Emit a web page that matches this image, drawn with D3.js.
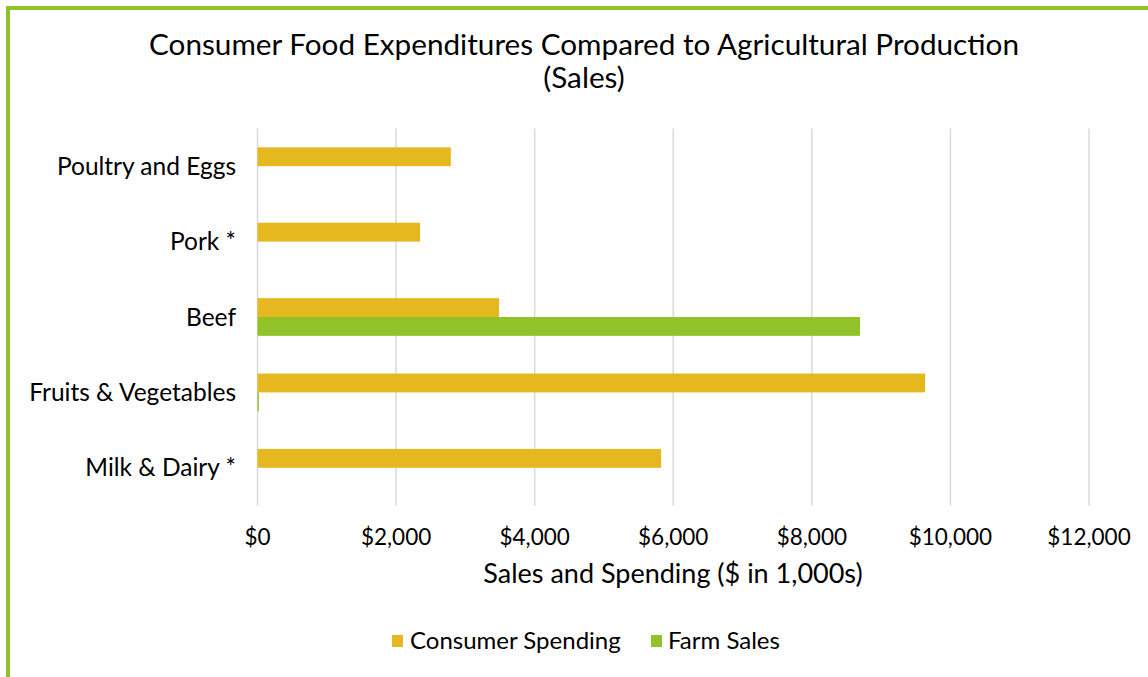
<!DOCTYPE html>
<html>
<head>
<meta charset="utf-8">
<script src="https://cdn.jsdelivr.net/npm/d3@7"></script>
<style>
  html, body { margin: 0; padding: 0; background: #fff; }
  svg { display: block; font-family: Lato, "Open Sans", sans-serif; }
</style>
</head>
<body>
<svg id="chart" width="1148" height="677"></svg>
<script>
// Food categories, top to bottom
const categories = ["Poultry and Eggs", "Pork *", "Beef", "Fruits & Vegetables", "Milk & Dairy *"];
// Values in $1,000s
const consumerSpending = [2790, 2345, 3485, 9635, 5825];
const farmSales = [0, 0, 8695, 20, 0];
const seriesNames = ["Consumer Spending", "Farm Sales"];
const seriesColors = ["#e5b81f", "#92c229"];
const xTicks = [0, 2000, 4000, 6000, 8000, 10000, 12000];

const svg = d3.select("#chart");
const W = 1148, H = 677;
const plot = { left: 257.5, right: 1089, top: 128.5, bottom: 505.5 };

// Outer frame: green rule along top and left
svg.append("line").attr("x1", 8).attr("x2", W).attr("y1", 8).attr("y2", 8)
  .attr("stroke", "#92c229").attr("stroke-width", 4);
svg.append("line").attr("x1", 8).attr("x2", 8).attr("y1", 6).attr("y2", H)
  .attr("stroke", "#92c229").attr("stroke-width", 4);

const x = d3.scaleLinear().domain([0, 12000]).range([plot.left, plot.right]);
const y = d3.scaleBand().domain(categories).range([plot.top, plot.bottom]).paddingInner(0.5).paddingOuter(0.25);
const sub = d3.scaleBand().domain(seriesNames).range([0, y.bandwidth()]);

// Title
svg.append("text").attr("x", 584).attr("y", 55).attr("text-anchor", "middle")
  .attr("font-size", 29.7).attr("fill", "#000")
  .text("Consumer Food Expenditures Compared to Agricultural Production");
svg.append("text").attr("x", 584).attr("y", 88).attr("text-anchor", "middle")
  .attr("font-size", 29.7).attr("fill", "#000").text("(Sales)");

// Vertical gridlines
svg.append("g").selectAll("line").data(xTicks).join("line")
  .attr("x1", d => x(d)).attr("x2", d => x(d))
  .attr("y1", plot.top).attr("y2", plot.bottom)
  .attr("stroke", "#d9d9d9").attr("stroke-width", 1.5);

// Bars
const rows = categories.map((c, i) => ({ c, vals: [consumerSpending[i], farmSales[i]] }));
const g = svg.append("g");
rows.forEach(r => {
  r.vals.forEach((v, j) => {
    if (v <= 0) return;
    g.append("rect")
      .attr("x", x(0))
      .attr("y", y(r.c) + sub(seriesNames[j]))
      .attr("width", x(v) - x(0))
      .attr("height", sub.bandwidth())
      .attr("fill", seriesColors[j]);
  });
});

// Category labels
svg.append("g").selectAll("text").data(categories).join("text")
  .attr("x", 236).attr("y", d => y(d) + y.bandwidth() / 2)
  .attr("dy", "0.35em").attr("text-anchor", "end")
  .attr("font-size", 24.5).attr("fill", "#000").text(d => d);

// X axis tick labels
const fmt = d => "$" + d3.format(",")(d);
svg.append("g").selectAll("text").data(xTicks).join("text")
  .attr("x", d => x(d)).attr("y", 537).attr("dy", "0.35em")
  .attr("text-anchor", "middle").attr("font-size", 22.5).attr("fill", "#000")
  .text(fmt);

// X axis title
svg.append("text").attr("x", 673).attr("y", 574).attr("dy", "0.35em")
  .attr("text-anchor", "middle").attr("font-size", 27).attr("fill", "#000")
  .text("Sales and Spending ($ in 1,000s)");

// Legend
const legendItems = [
  { name: seriesNames[0], color: seriesColors[0], sx: 392, tx: 410 },
  { name: seriesNames[1], color: seriesColors[1], sx: 651, tx: 668 }
];
const lg = svg.append("g");
legendItems.forEach(it => {
  lg.append("rect").attr("x", it.sx).attr("y", 635).attr("width", 11).attr("height", 12).attr("fill", it.color);
  lg.append("text").attr("x", it.tx).attr("y", 641).attr("dy", "0.35em")
    .attr("font-size", 24).attr("fill", "#000").text(it.name);
});
</script>
</body>
</html>
